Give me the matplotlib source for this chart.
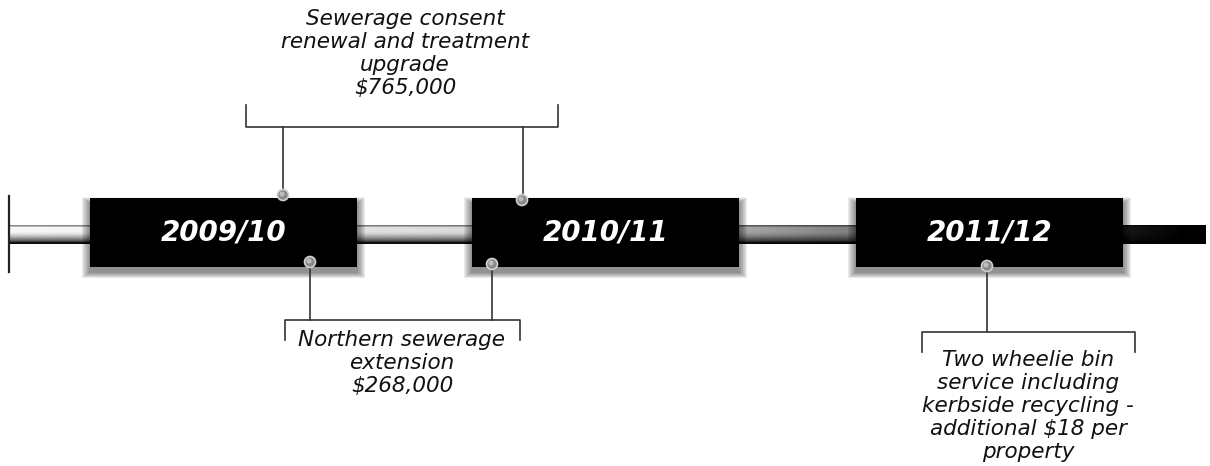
import matplotlib
matplotlib.use("Agg")
import matplotlib.pyplot as plt
from matplotlib.patches import Rectangle, Circle
import numpy as np

# ---------------------------------------------------------------------------
# Data
# ---------------------------------------------------------------------------
periods = ["2009/10", "2010/11", "2011/12"]

upper_label = "Sewerage consent\nrenewal and treatment\nupgrade\n$765,000"
lower_label = "Northern sewerage\nextension\n$268,000"
right_label = "Two wheelie bin\nservice including\nkerbside recycling -\nadditional $18 per\nproperty"

# layout (pixel coords, y down)
box_left = [90, 472, 856]
box_w, box_top, box_h = 267, 198, 69

FONT = ["DejaVu Sans"]

W, H = 1210, 466
fig = plt.figure(figsize=(W / 100, H / 100), dpi=100)
ax = fig.add_axes([0, 0, 1, 1])
ax.set_xlim(0, W)
ax.set_ylim(H, 0)
ax.axis("off")

# ---------------------------------------------------------------------------
# Timeline bar with shading
# ---------------------------------------------------------------------------
nx, ny = 600, 36
xs = np.linspace(0, 1, nx)
base = np.clip(0.97 - 0.3 * xs - 0.7 * np.clip((xs - 0.5) / 0.5, 0, 1) ** 1.1, 0, 1)
ys = np.linspace(0, 1, ny)
profile = np.where(ys < 0.08, 0.55,
                   np.where(ys > 0.9, 0.05,
                            1.0 - 0.75 * np.clip((ys - 0.35) / 0.55, 0, 1) ** 1.4))
img = np.outer(profile, base)
ax.imshow(img, cmap="gray", vmin=0, vmax=1, extent=[10, 1206, 244, 225],
          aspect="auto", zorder=1, interpolation="bilinear")
ax.plot([9, 9], [196, 272], color="#222222", lw=1.6, zorder=2)

# ---------------------------------------------------------------------------
# Boxes with soft shadows
# ---------------------------------------------------------------------------
for x0, label in zip(box_left, periods):
    for k in range(12, 0, -1):
        ax.add_patch(Rectangle((x0 - k * 0.7, box_top + 5 - k * 0.5),
                               box_w + k * 1.4, box_h + k * 1.0,
                               facecolor="black", edgecolor="none",
                               alpha=0.045, zorder=3))
    ax.add_patch(Rectangle((x0, box_top), box_w, box_h,
                           facecolor="black", edgecolor="none", zorder=4))
    ax.text(x0 + box_w / 2, box_top + box_h / 2, label, color="white",
            fontsize=20, fontweight="bold", fontstyle="italic", family=FONT,
            ha="center", va="center", zorder=5)


def dot(x, y):
    ax.add_patch(Circle((x, y), 5.5, facecolor="#8a8a8a", edgecolor="#d0d0d0",
                        lw=1.2, zorder=7))
    ax.add_patch(Circle((x - 1, y - 1), 2.5, facecolor="#bdbdbd",
                        edgecolor="none", zorder=7))


line_kw = dict(color="#333333", lw=1.2, zorder=6)
text_kw = dict(fontsize=15.5, fontstyle="italic", family=FONT, ha="center",
               va="top", linespacing=1.19, color="#111111")

# upper bracket
ax.plot([246, 246, 558, 558], [105, 127, 127, 105], **line_kw)
ax.plot([283, 283], [127, 195], **line_kw)
ax.plot([523, 523], [127, 200], **line_kw)
dot(283, 195)
dot(522, 200)
ax.text(405, 9, upper_label, **text_kw)

# lower bracket
ax.plot([310, 310], [262, 320], **line_kw)
ax.plot([492, 492], [264, 320], **line_kw)
ax.plot([285, 285, 520, 520], [340, 320, 320, 340], **line_kw)
dot(310, 262)
dot(492, 264)
ax.text(402, 330, lower_label, **text_kw)

# right bracket
ax.plot([987, 987], [266, 332], **line_kw)
ax.plot([922, 922, 1135, 1135], [352, 332, 332, 352], **line_kw)
dot(987, 266)
ax.text(1028, 350, right_label, **text_kw)

fig.savefig("out.png", dpi=100)
